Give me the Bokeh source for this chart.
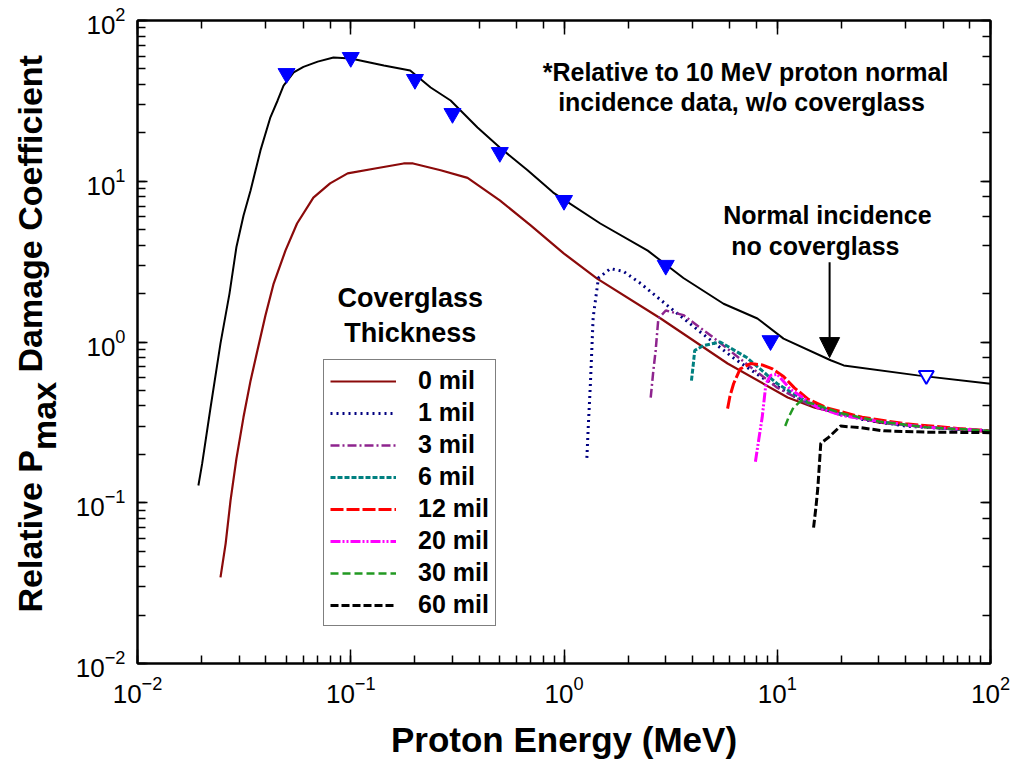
from bokeh.plotting import figure
from bokeh.layouts import row
from bokeh.models import Range1d, LogAxis, Label, Legend, LegendItem, Arrow, NormalHead, CustomJSTickFormatter
from bokeh.embed import file_html
from bokeh.resources import INLINE
import math

# ---------------- data ----------------
e_normal = [0.0193, 0.0201, 0.022, 0.0245, 0.027, 0.0291, 0.0314, 0.0339, 0.0377, 0.042, 0.0454, 0.0484,
            0.054, 0.060, 0.070, 0.083, 0.10, 0.143, 0.19, 0.237, 0.294, 0.393, 0.50, 0.675, 0.89, 1.48,
            2.47, 3.63, 5.6, 8.07, 10.7, 17.8, 20.5, 45.5, 100]
d_normal = [0.128, 0.175, 0.39, 0.98, 2.0, 3.9, 6.1, 8.75, 15.5, 25.0, 31.8, 39.4,
            47.5, 51.5, 55.5, 58.9, 58.0, 52.5, 48.9, 38.3, 31.8, 21.6, 16.2, 11.7, 8.5, 5.46,
            3.7, 2.5, 1.73, 1.4, 1.05, 0.77, 0.715, 0.62, 0.55]

e_tri = [0.05, 0.1, 0.2, 0.3, 0.5, 1.0, 3.0, 9.3]
d_tri = [46.8, 58.9, 43.0, 26.4, 15.1, 7.6, 3.0, 1.02]
e_open = [50.0]
d_open = [0.62]

e_0mil = [0.0245, 0.0259, 0.0273, 0.0291, 0.0314, 0.0339, 0.0365, 0.0398, 0.0435, 0.0494, 0.056, 0.0668,
          0.080, 0.0967, 0.13, 0.177, 0.196, 0.264, 0.353, 0.5, 0.7, 1.0, 1.43, 2.84, 5.85, 11.2, 15.0,
          30.0, 50.0, 100.0]
d_0mil = [0.0343, 0.0557, 0.103, 0.188, 0.34, 0.575, 0.885, 1.46, 2.31, 3.7, 5.46, 7.9,
          9.7, 11.2, 12.0, 12.9, 12.9, 11.7, 10.5, 7.6, 5.3, 3.55, 2.48, 1.4, 0.735, 0.452, 0.39,
          0.315, 0.295, 0.275]

e_1mil = [1.28, 1.30, 1.33, 1.37, 1.45, 1.65, 1.9, 2.29, 3.05, 4.37, 6.2, 8.5, 12, 17, 25, 40, 60, 100]
d_1mil = [0.19, 0.30, 0.55, 1.42, 2.5, 2.86, 2.75, 2.31, 1.69, 1.15, 0.80, 0.60, 0.46, 0.38, 0.33, 0.30, 0.29, 0.28]

e_3mil = [2.55, 2.62, 2.69, 2.77, 3.0, 3.63, 5.0, 7, 10, 14, 20, 35, 60, 100]
d_3mil = [0.45, 0.65, 0.885, 1.4, 1.57, 1.47, 1.07, 0.75, 0.52, 0.41, 0.35, 0.31, 0.29, 0.28]

e_6mil = [3.96, 4.05, 4.1, 4.5, 5.4, 7.2, 10, 14, 20, 35, 60, 100]
d_6mil = [0.575, 0.75, 0.885, 0.95, 1.0, 0.8, 0.55, 0.42, 0.355, 0.31, 0.29, 0.28]

e_12mil = [5.85, 6.0, 6.24, 6.7, 7.5, 8.5, 9.5, 10.7, 12, 14, 17, 25, 40, 70, 100]
d_12mil = [0.385, 0.46, 0.55, 0.68, 0.735, 0.72, 0.68, 0.61, 0.52, 0.44, 0.39, 0.34, 0.31, 0.29, 0.28]

e_20mil = [7.9, 8.2, 8.5, 8.85, 9.3, 10, 11.5, 15.5, 20, 30, 50, 100]
d_20mil = [0.18, 0.25, 0.34, 0.55, 0.62, 0.63, 0.51, 0.39, 0.35, 0.32, 0.295, 0.28]

e_30mil = [10.9, 11.3, 11.9, 12.9, 15, 20, 30, 50, 100]
d_30mil = [0.30, 0.34, 0.39, 0.43, 0.41, 0.36, 0.32, 0.295, 0.28]

e_60mil = [14.8, 15.2, 15.5, 16, 17.4, 19.8, 24.6, 31.6, 50, 100]
d_60mil = [0.070, 0.095, 0.124, 0.234, 0.255, 0.30, 0.293, 0.28, 0.275, 0.273]

legend_labels = ["0 mil", "1 mil", "3 mil", "6 mil", "12 mil", "20 mil", "30 mil", "60 mil"]

FONT = "Liberation Sans"
LABEL_W = 70

# ---------------- narrow figure holding the y-axis title ----------------
t = figure(width=LABEL_W, height=772, x_range=Range1d(0, LABEL_W), y_range=Range1d(0, 772),
           output_backend="svg", toolbar_location=None, frame_align=False,
           min_border=0, min_border_left=0, min_border_right=0, min_border_top=0, min_border_bottom=0)
t.xaxis.visible = False
t.yaxis.visible = False
t.xgrid.visible = False
t.ygrid.visible = False
t.outline_line_color = None
t.background_fill_color = "white"
t.border_fill_color = "white"

half = math.pi / 2
def ylab(x, y, s):
    t.add_layout(Label(x=x, y=y, text=s, text_font=FONT, text_font_size="34px", text_font_style="bold",
                       text_color="black", text_align="left", text_baseline="alphabetic", angle=half))

ylab(29, 160, "Relative P")
ylab(43, 322.5, "max")
ylab(29, 400, "Damage Coefficient")

# ---------------- main figure ----------------
p = figure(width=1014 - LABEL_W, height=772, x_axis_type="log", y_axis_type="log",
           x_range=Range1d(0.01, 100), y_range=Range1d(0.01, 100),
           output_backend="svg", toolbar_location=None, frame_align=False,
           min_border_left=137 - LABEL_W, min_border_right=24, min_border_top=20, min_border_bottom=109)
p.xgrid.visible = False
p.ygrid.visible = False
p.outline_line_color = "black"
p.outline_line_width = 2
p.background_fill_color = "white"
p.border_fill_color = "white"

# mirror axes (ticks only)
top_ax = LogAxis(formatter=CustomJSTickFormatter(code="return ''"),
                 major_label_text_font_size="1px", major_label_standoff=0)
right_ax = LogAxis(formatter=CustomJSTickFormatter(code="return ''"),
                   major_label_text_font_size="1px", major_label_standoff=0)
p.add_layout(top_ax, "above")
p.add_layout(right_ax, "right")

for ax in p.xaxis:
    ax.major_tick_in = 14
    ax.major_tick_out = 0
    ax.minor_tick_in = 8
    ax.minor_tick_out = 0
    ax.axis_line_width = 2
    ax.major_tick_line_width = 1.5
    ax.minor_tick_line_width = 1.5
for ax in p.yaxis:
    ax.major_tick_in = 10
    ax.major_tick_out = 0
    ax.minor_tick_in = 8
    ax.minor_tick_out = 0
    ax.axis_line_width = 2
    ax.major_tick_line_width = 1.5
    ax.minor_tick_line_width = 1.5

xa = p.below[0]
ya = p.left[0]
for ax in (xa, ya):
    ax.major_label_text_font = FONT
    ax.major_label_text_font_size = "26px"
    ax.major_label_text_color = "black"

xa.major_label_standoff = 12
xa.axis_label = "Proton Energy (MeV)"
xa.axis_label_text_font = FONT
xa.axis_label_text_font_size = "35px"
xa.axis_label_text_font_style = "bold"
xa.axis_label_text_color = "black"
xa.axis_label_standoff = 14
ya.major_label_standoff = 12

# ---------------- curves ----------------
p.line(e_normal, d_normal, line_color="black", line_width=2)

series = [
    (e_0mil, d_0mil, "#8B0A0A", 2.2, "solid"),
    (e_1mil, d_1mil, "#000080", 3, "2 4"),
    (e_3mil, d_3mil, "#8E248E", 2.5, "9 3 2 3"),
    (e_6mil, d_6mil, "#008080", 3, "5 2"),
    (e_12mil, d_12mil, "#FF0000", 3, "13 3"),
    (e_20mil, d_20mil, "#FF00FF", 3, "10 2 2 2 2 2"),
    (e_30mil, d_30mil, "#229922", 2.5, "8 4"),
    (e_60mil, d_60mil, "black", 3, "8 3"),
]
items = []
for (ex, dy, col, lw, dash), lab in zip(series, legend_labels):
    r = p.line(ex, dy, line_color=col, line_width=lw, line_dash=dash)
    items.append(LegendItem(label=lab, renderers=[r]))

p.scatter(e_tri, d_tri, marker="inverted_triangle", size=17, fill_color="#0000FF", line_color="#0000FF")
p.scatter(e_open, d_open, marker="inverted_triangle", size=15, fill_color="white", line_color="#0000FF",
          line_width=2)

legend = Legend(items=items, location=(186, 37))
legend.glyph_width = 66
legend.glyph_height = 20
legend.label_height = 20
legend.spacing = 3
legend.padding = 6
legend.margin = 0
legend.label_standoff = 22
legend.label_text_font = FONT
legend.label_text_font_size = "25px"
legend.label_text_font_style = "bold"
legend.label_text_color = "black"
legend.border_line_color = "black"
legend.border_line_width = 1.5
legend.background_fill_color = "white"
legend.background_fill_alpha = 1
p.add_layout(legend)

# ---------------- annotations ----------------
def txt(x, y, s, size):
    p.add_layout(Label(x=x, y=y, text=s, text_font=FONT, text_font_size=size, text_font_style="bold",
                       text_color="black", text_align="center", text_baseline="middle"))

txt(7.1, 47.5, "*Relative to 10 MeV proton normal", "25px")
txt(6.8, 31.3, "incidence data, w/o coverglass", "25px")
txt(17.2, 6.2, "Normal incidence", "25px")
txt(15.1, 3.93, "no coverglass", "25px")
txt(0.19, 1.87, "Coverglass", "27px")
txt(0.19, 1.13, "Thickness", "27px")

p.add_layout(Arrow(end=NormalHead(size=20, fill_color="black", line_color="black"),
                   x_start=17.6, y_start=3.13, x_end=17.6, y_end=0.80,
                   line_color="black", line_width=2))

layout = row(t, p, spacing=0)
open("out.html", "w").write(file_html(layout, INLINE))
